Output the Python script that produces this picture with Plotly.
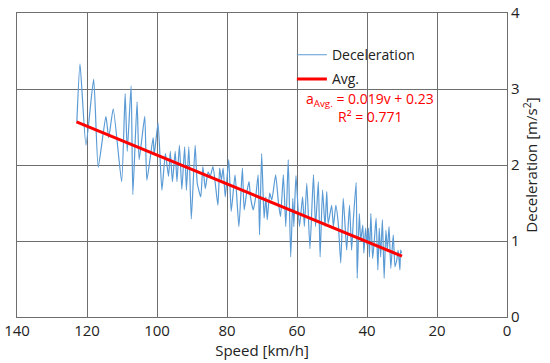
import plotly.graph_objects as go

speed = [122.9, 122.0, 120.3, 118.1, 116.8, 114.6, 113.8, 112.5, 110.1, 109.1,
         108.5, 107.4, 106.9, 105.7, 105.1, 103.5, 102.9, 101.1, 100.8, 99.7,
         98.6, 97.6, 96.7, 96.2, 95.6, 94.8, 94.3, 93.6, 92.9, 92.1,
         91.6, 90.9, 90.2, 89.1, 88.5, 87.5, 86.9, 86.2, 85.4, 84.8,
         84.0, 82.6, 82.1, 81.6, 81.1, 80.5, 79.5, 78.8, 77.7, 76.6,
         75.6, 75.1, 74.4, 73.7, 73.3, 72.5, 71.8, 71.1, 70.7, 70.1,
         69.4, 68.9, 68.5, 67.8, 67.2, 66.1, 65.3, 64.7, 63.9, 63.2,
         62.5, 61.8, 61.2, 60.9, 60.3, 59.3, 58.4, 57.9, 57.2, 56.3,
         55.3, 54.7, 53.9, 53.4, 52.7, 52.0, 51.5, 51.1, 50.1, 49.6,
         48.9, 48.2, 47.5, 46.8, 46.3, 45.8, 45.0, 44.4, 43.9, 43.1,
         42.8, 42.2, 41.8, 41.2, 40.9, 40.4, 40.0, 39.6, 39.3, 38.9,
         38.4, 37.9, 37.4, 36.9, 36.5, 36.1, 35.6, 35.1, 34.6, 34.2,
         33.7, 33.2, 32.5, 32.0, 31.5, 31.1, 30.6, 30.4, 30.1]
decel = [2.57, 3.33, 2.26, 3.13, 1.97, 2.64, 2.36, 2.74, 1.78, 2.94,
         2.18, 3.04, 1.61, 2.83, 2.07, 2.64, 1.80, 2.36, 2.13, 2.55,
         1.67, 2.15, 1.85, 2.18, 1.78, 2.18, 1.78, 2.26, 1.68, 2.24,
         1.67, 2.24, 1.29, 2.26, 1.76, 1.58, 1.98, 1.69, 1.91, 1.85,
         1.98, 1.47, 1.96, 1.80, 1.96, 1.58, 2.07, 1.39, 1.87, 1.19,
         1.96, 1.41, 1.63, 1.78, 1.58, 1.41, 1.58, 1.87, 1.08, 2.15,
         1.30, 1.58, 1.28, 1.63, 1.54, 1.87, 1.50, 1.32, 1.87, 1.19,
         2.07, 0.79, 1.56, 1.19, 1.86, 1.19, 1.58, 1.19, 1.76, 0.90,
         1.87, 1.19, 1.78, 0.79, 1.67, 1.19, 1.65, 1.23, 1.47, 1.19,
         1.47, 1.23, 0.71, 1.56, 1.23, 0.88, 1.47, 0.88, 1.28, 1.77,
         0.51, 1.36, 1.01, 1.21, 0.84, 1.17, 0.95, 1.17, 0.79, 1.36,
         0.77, 1.01, 1.30, 0.62, 1.17, 0.79, 1.28, 0.51, 1.14, 0.88,
         1.19, 0.64, 1.08, 0.66, 0.75, 0.88, 0.62, 0.88, 0.84]

# Linear fit a = 0.019 v + 0.23, drawn between end speeds
avg_speed = [123.0, 30.0]
avg_decel = [0.019 * 123.0 + 0.23, 0.019 * 30.0 + 0.23]

x_ticks = [140, 120, 100, 80, 60, 40, 20, 0]
y_ticks = [0, 1, 2, 3, 4]

FONT = "Open Sans"
GRID = "#6e6e6e"
TXT = "#222"

fig = go.Figure()
fig.add_trace(go.Scatter(x=speed, y=decel, mode="lines", name="Deceleration",
                         line=dict(color="#5B9BD5", width=1.2, shape="spline", smoothing=0.5),
                         legendgroup="a"))
fig.add_trace(go.Scatter(x=avg_speed, y=avg_decel, mode="lines", name="Avg.",
                         line=dict(color="#FF0000", width=3), legendgroup="b"))

fig.update_layout(
    width=550, height=363,
    margin=dict(l=17, r=43, t=13, b=46, autoexpand=False),
    paper_bgcolor="white", plot_bgcolor="white",
    font=dict(family=FONT, size=15, color=TXT),
    legend=dict(x=0.561, y=0.914, xanchor="left", yanchor="top",
                bgcolor="rgba(0,0,0,0)", font=dict(size=14, color=TXT),
                tracegroupgap=3, traceorder="grouped"),
    showlegend=True,
)
fig.update_xaxes(range=[140, 0], tickvals=x_ticks, ticktext=[str(t) for t in x_ticks],
                 showgrid=True, gridcolor=GRID, gridwidth=1,
                 showline=True, linecolor=GRID, linewidth=1.2, mirror=True,
                 ticks="", zeroline=False, automargin=False, ticklabeloverflow="allow",
                 tickfont=dict(size=15, color=TXT),
                 title=dict(text="Speed [km/h]", font=dict(size=15, color=TXT), standoff=2))
fig.update_yaxes(range=[0, 4], tickvals=y_ticks, side="right",
                 showgrid=True, gridcolor=GRID, gridwidth=1,
                 showline=True, linecolor=GRID, linewidth=1.2, mirror=True,
                 ticks="", zeroline=False, automargin=False, ticklabeloverflow="allow",
                 tickfont=dict(size=15, color=TXT),
                 title=dict(text="Deceleration [m/s<sup>2</sup>]", font=dict(size=15, color=TXT), standoff=4))

# white background behind legend / equation block
fig.add_shape(type="rect", xref="paper", yref="paper", x0=0.584, x1=0.853, y0=0.625, y1=0.944,
              fillcolor="white", line=dict(width=0), layer="between")

fig.add_annotation(xref="paper", yref="paper", x=0.72, y=0.717, showarrow=False,
                   text="a<sub>Avg.</sub> = 0.019v + 0.23", font=dict(size=14, color="#FF0000"),
                   xanchor="center", yanchor="middle")
fig.add_annotation(xref="paper", yref="paper", x=0.72, y=0.658, showarrow=False,
                   text="R² = 0.771", font=dict(size=14, color="#FF0000"),
                   xanchor="center", yanchor="middle")

# remove the browser's default 8px body margin so the 550x363 figure fills the window
fig.write_html("out.html", config={"displayModeBar": False},
               post_script="document.body.style.margin='0';")
